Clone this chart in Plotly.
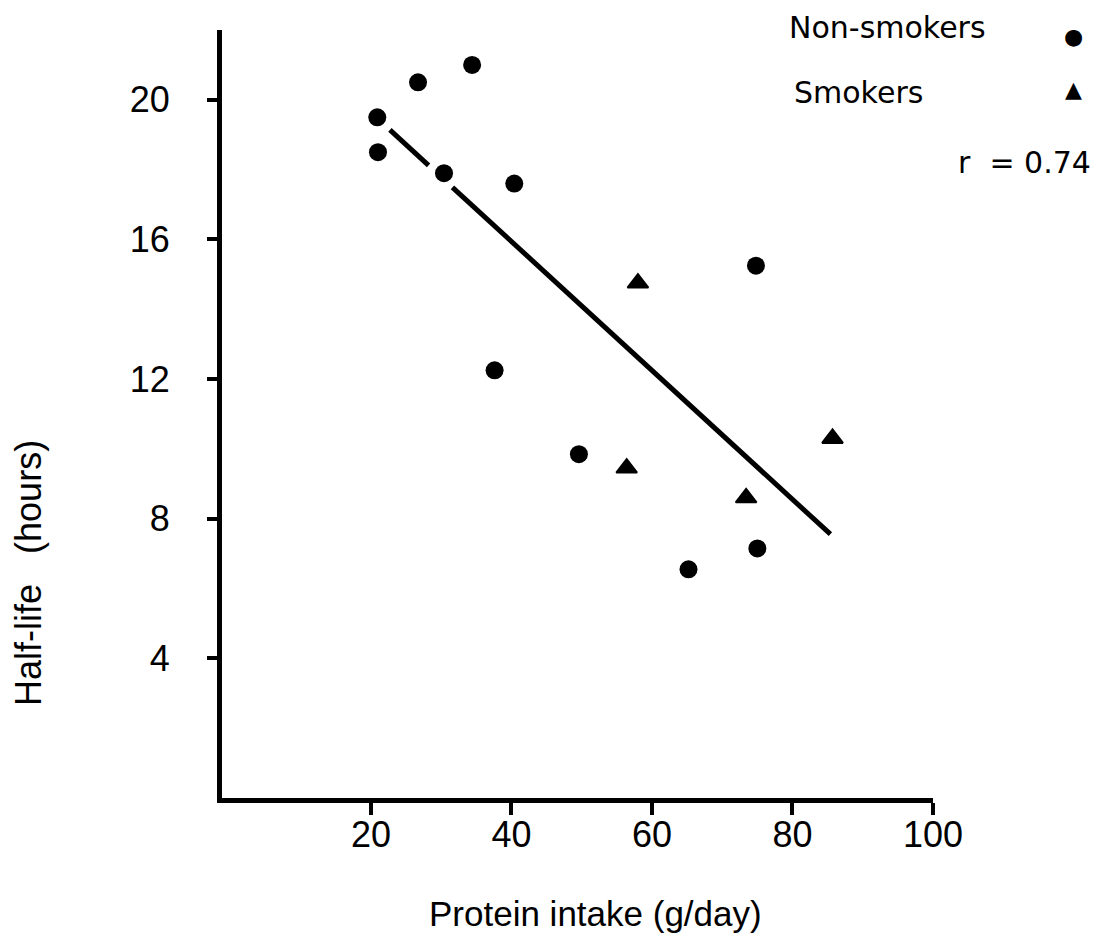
import plotly.graph_objects as go

# Protein intake (g/day) vs. half-life (hours)
nonsmoker_protein = [20.9, 21.0, 26.7, 34.4, 30.4, 40.4, 37.6, 49.6, 65.2, 75.0, 74.8]
nonsmoker_halflife = [19.5, 18.5, 20.5, 21.0, 17.9, 17.6, 12.25, 9.85, 6.55, 7.15, 15.25]

smoker_protein = [58.0, 56.4, 73.4, 85.7]
smoker_halflife = [14.75, 9.45, 8.6, 10.3]

# Regression line (drawn with a small break where it passes a point)
fit_intercept = 23.33
fit_slope = -0.1847
fit_segments = [(22.7, 28.2), (31.6, 85.4)]

x_ticks = [20, 40, 60, 80, 100]
y_ticks = [4, 8, 12, 16, 20]

NARROW = "Liberation Sans Narrow, Arial Narrow, Liberation Sans, sans-serif"
SANS = "Liberation Sans, Arial, sans-serif"
LEGEND_FONT = "DejaVu Sans, sans-serif"

fit_x, fit_y = [], []
for x0, x1 in fit_segments:
    fit_x += [x0, x1, None]
    fit_y += [fit_intercept + fit_slope * x0, fit_intercept + fit_slope * x1, None]

fig = go.Figure()
fig.add_trace(go.Scatter(
    x=fit_x, y=fit_y, mode="lines",
    line=dict(color="black", width=5), showlegend=False, hoverinfo="skip",
))
fig.add_trace(go.Scatter(
    x=nonsmoker_protein, y=nonsmoker_halflife, mode="markers", name="Non-smokers",
    marker=dict(symbol="circle", size=18, color="black"), showlegend=False,
))
fig.add_trace(go.Scatter(
    x=smoker_protein, y=smoker_halflife, mode="markers", name="Smokers",
    marker=dict(symbol="triangle-up", size=18, color="black",
                line=dict(color="black", width=2)),
    showlegend=False,
))

axis_common = dict(
    showline=True, linewidth=5, linecolor="black",
    ticks="outside", tickwidth=4, tickcolor="black",
    showgrid=False, zeroline=False,
    tickfont=dict(family=NARROW, size=36, color="black"),
)

fig.update_xaxes(range=[-1.2, 100], tickvals=x_ticks, ticklen=12,
                 ticklabelstandoff=-11, **axis_common)
fig.update_yaxes(range=[0, 22], tickvals=y_ticks, ticklen=10,
                 ticklabelstandoff=30, **axis_common)

annotations = [
    dict(text="Protein intake (g/day)", x=0.526, y=-0.151, xref="paper", yref="paper",
         xanchor="center", yanchor="middle", showarrow=False,
         font=dict(family=SANS, size=35, color="black")),
    dict(text="Half-life\u00a0\u00a0\u00a0(hours)", x=-0.2715, y=0.293, xref="paper", yref="paper",
         xanchor="center", yanchor="middle", textangle=-90, showarrow=False,
         font=dict(family=SANS, size=36, color="black")),
    dict(text="Non-smokers", x=0.794, y=1.003, xref="paper", yref="paper",
         xanchor="left", yanchor="middle", showarrow=False,
         font=dict(family=LEGEND_FONT, size=30, color="black")),
    dict(text="\u25cf", x=1.198, y=0.9913, xref="paper", yref="paper",
         xanchor="center", yanchor="middle", showarrow=False,
         font=dict(family=LEGEND_FONT, size=22, color="black")),
    dict(text="Smokers", x=0.801, y=0.918, xref="paper", yref="paper",
         xanchor="left", yanchor="middle", showarrow=False,
         font=dict(family=LEGEND_FONT, size=30, color="black")),
    dict(text="\u25b2", x=1.198, y=0.923, xref="paper", yref="paper",
         xanchor="center", yanchor="middle", showarrow=False,
         font=dict(family=LEGEND_FONT, size=22, color="black")),
    dict(text="r\u00a0\u00a0=\u00a00.74", x=1.225, y=0.827, xref="paper", yref="paper",
         xanchor="right", yanchor="middle", showarrow=False,
         font=dict(family=LEGEND_FONT, size=30, color="black")),
]

fig.update_layout(
    width=1106, height=951,
    margin=dict(l=222, r=173, t=30, b=153, pad=0),
    plot_bgcolor="white", paper_bgcolor="white",
    annotations=annotations,
    showlegend=False,
)

fig.write_html("out.html")
